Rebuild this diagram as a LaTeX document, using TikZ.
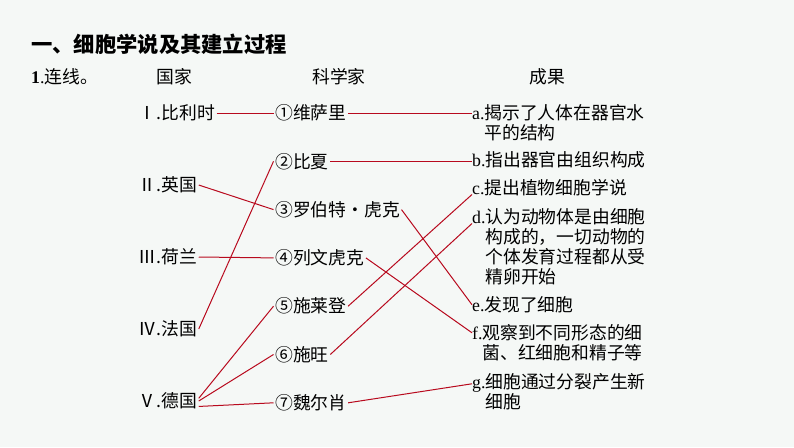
\documentclass[tikz,border=0pt]{standalone}
\usepackage{fontspec}
\setmainfont{Noto Sans CJK SC}
\newfontfamily\lat{Liberation Serif}
\usetikzlibrary{positioning}
\definecolor{hintergrund}{RGB}{245,248,246}
\definecolor{linienrot}{RGB}{184,10,30}
\newcommand{\grundschrift}{\fontsize{17.8pt}{20pt}\selectfont}
\tikzset{
	titel/.style={
		anchor=west,
		inner sep=0pt,
		font=\fontsize{21.3pt}{24pt}\selectfont\bfseries},
	kopf/.style={
		inner sep=0pt,
		font=\grundschrift},
	land/.style={
		anchor=west,
		inner sep=1.5pt,
		font=\grundschrift},
	forscher/.style={
		anchor=west,
		inner sep=1.5pt,
		font=\grundschrift},
	ergebnis/.style={
		anchor=base west,
		inner sep=0pt,
		text width=12em,
		align=left,
		font=\grundschrift},
	linie/.style={draw=linienrot, line width=1pt},
}

\begin{document}
\begin{tikzpicture}
		[x=1pt, y=-1pt, on grid]
		\fill[hintergrund] (0,0) rectangle (794,447);
		\useasboundingbox (0,0) rectangle (794,447);
		\node[titel] (titel) at (31,44) {一、细胞学说及其建立过程};
		\node[kopf, anchor=west] (aufgabe) at (31,77) {{\lat\bfseries 1}{\lat .}连线。};
		\node[kopf] (kopfland) at (174,77) {国家};
		\node[kopf] (kopfforscher) at (339,77) {科学家};
		\node[kopf] (kopfergebnis) at (547,77) {成果};
		% Laender
		\node[land] (bel) at (137,113) {Ⅰ.比利时};
		\node[land, below=72pt of bel.west, anchor=west] (gb) {Ⅱ.英国};
		\node[land, below=72pt of gb.west, anchor=west] (nl) {Ⅲ.荷兰};
		\node[land, below=72pt of nl.west, anchor=west] (fr) {Ⅳ.法国};
		\node[land, below=72pt of fr.west, anchor=west] (de) {Ⅴ.德国};
		% Forscher
		\node[forscher] (vesal) at (273.5,113) {①维萨里};
		\node[forscher, below=48.3pt of vesal.west, anchor=west] (bichat) {②比夏};
		\node[forscher, below=48.3pt of bichat.west, anchor=west] (hooke) {③罗伯特・虎克};
		\node[forscher, below=48.3pt of hooke.west, anchor=west] (leeu) {④列文虎克};
		\node[forscher, below=48.3pt of leeu.west, anchor=west] (schlei) {⑤施莱登};
		\node[forscher, below=48.3pt of schlei.west, anchor=west] (schwann) {⑥施旺};
		\node[forscher, below=48.3pt of schwann.west, anchor=west] (virchow) {⑦魏尔肖};
		% Ergebnisse
		\node[ergebnis] (ra) at (472,119.5) {{\lat a.}揭示了人体在器官水\\\phantom{\lat a.}平的结构};
		\node[ergebnis] (rb) at (472,166.5) {{\lat b.}指出器官由组织构成};
		\node[ergebnis] (rc) at (472,194.5) {{\lat c.}提出植物细胞学说};
		\node[ergebnis] (rd) at (472,223.5) {{\lat d.}认为动物体是由细胞\\\phantom{\lat d.}构成的，一切动物的\\\phantom{\lat d.}个体发育过程都从受\\\phantom{\lat d.}精卵开始};
		\node[ergebnis] (re) at (472,311.5) {{\lat e.}发现了细胞};
		\node[ergebnis] (rf) at (472,339.5) {{\lat f.}观察到不同形态的细\\\phantom{\lat f.}菌、红细胞和精子等};
		\node[ergebnis] (rg) at (472,388.5) {{\lat g.}细胞通过分裂产生新\\\phantom{\lat g.}细胞};
		% Verbindungen
		\draw[linie] (bel.east) -- (vesal.west);
		\draw[linie] (gb.east) -- (hooke.west);
		\draw[linie] (nl.east) -- (leeu.west);
		\draw[linie] (fr.east) -- (bichat.west);
		\draw[linie] (de.5) -- (schlei.west);
		\draw[linie] (de.east) -- (schwann.west);
		\draw[linie] (de.-10) -- (virchow.west);
		\draw[linie] (vesal.east) -- (vesal.east -| ra.west);
		\draw[linie] (bichat.east) -- (bichat.east -| rb.west);
		\draw[linie] (hooke.east) -- (re.west);
		\draw[linie] (leeu.east) -- ([yshift=4pt]rf.mid west);
		\draw[linie] (schlei.east) -- (rc.base west);
		\draw[linie] (schwann.east) -- (rd.base west);
		\draw[linie] (virchow.east) -- ([yshift=2pt]rg.mid west);
\end{tikzpicture}
\end{document}
